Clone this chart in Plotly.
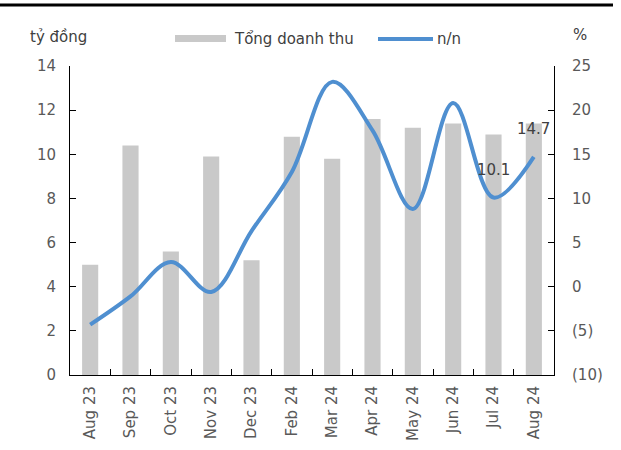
import plotly.graph_objects as go

months = ["Aug 23", "Sep 23", "Oct 23", "Nov 23", "Dec 23", "Feb 24",
          "Mar 24", "Apr 24", "May 24", "Jun 24", "Jul 24", "Aug 24"]
revenue = [5.0, 10.4, 5.6, 9.9, 5.2, 10.8, 9.8, 11.6, 11.2, 11.4, 10.9, 11.4]
yoy = [-4.3, -1.1, 2.8, -0.6, 6.3, 13.0, 23.2, 17.7, 8.8, 20.8, 10.1, 14.7]
labelled = ["Jul 24", "Aug 24"]

FONT = "DejaVu Sans, Verdana, sans-serif"
TICK = "#595959"
BAR = "#C9C9C9"
LINE = "#4F8FD0"

W, H = 621, 450
L, R, T, B = 70, 67, 66, 75
pw, ph = W - L - R, H - T - B


def px(x):
    return (x - L) / pw


def py(y):
    return (H - B - y) / ph


fig = go.Figure()
fig.add_trace(go.Bar(x=months, y=revenue, name="Tổng doanh thu",
                     marker_color=BAR, marker_line_width=0, yaxis="y"))
fig.add_trace(go.Scatter(x=months, y=yoy, name="n/n", mode="lines",
                         line=dict(color=LINE, width=4, shape="spline", smoothing=1.0),
                         yaxis="y2"))

ann = []
for m, v in zip(months, yoy):
    if m in labelled:
        ann.append(dict(x=m, y=v, xref="x", yref="y2", text=f"{v:.1f}",
                        showarrow=False, yshift=28,
                        font=dict(family=FONT, size=15, color="#404040")))

# axis titles
ann.append(dict(x=px(28), y=py(37), xref="paper", yref="paper", text="tỷ đồng",
                showarrow=False, xanchor="left", yanchor="middle",
                font=dict(family=FONT, size=15, color="#404040")))
ann.append(dict(x=px(580), y=py(35), xref="paper", yref="paper", text="%",
                showarrow=False, xanchor="center", yanchor="middle",
                font=dict(family=FONT, size=15, color="#404040")))

# legend drawn by hand
ann.append(dict(x=px(232), y=py(39), xref="paper", yref="paper", text="Tổng doanh thu",
                showarrow=False, xanchor="left", yanchor="middle",
                font=dict(family=FONT, size=15, color="#404040")))
ann.append(dict(x=px(435), y=py(39), xref="paper", yref="paper", text="n/n",
                showarrow=False, xanchor="left", yanchor="middle",
                font=dict(family=FONT, size=15, color="#404040")))

shapes = [
    dict(type="rect", xref="paper", yref="paper", x0=px(175), x1=px(226),
         y0=py(42), y1=py(35), fillcolor=BAR, line_width=0),
    dict(type="line", xref="paper", yref="paper", x0=px(378), x1=px(433),
         y0=py(39), y1=py(39), line=dict(color=LINE, width=4)),
    dict(type="line", xref="paper", yref="paper", x0=px(0), x1=px(613),
         y0=py(5), y1=py(5), line=dict(color="#000000", width=3)),
]

fig.update_layout(
    width=W, height=H,
    margin=dict(l=L, r=R, t=T, b=B, pad=0, autoexpand=False),
    paper_bgcolor="white", plot_bgcolor="white",
    showlegend=False,
    bargap=0.6,
    font=dict(family=FONT, size=15, color=TICK),
    xaxis=dict(type="category", showline=True, linecolor="#000000", linewidth=1,
               ticks="inside", ticklen=6, tickcolor="#000000", tickson="boundaries",
               tickangle=-90, showgrid=False, ticklabelstandoff=4, automargin=False,
               tickfont=dict(family=FONT, size=15, color=TICK)),
    yaxis=dict(range=[0, 14], dtick=2, showline=True, linecolor="#000000", linewidth=1,
               ticks="inside", ticklen=6, tickcolor="#000000", showgrid=False,
               zeroline=False, ticklabelstandoff=10, automargin=False,
               tickfont=dict(family=FONT, size=15, color=TICK)),
    yaxis2=dict(range=[-10, 25], dtick=5, overlaying="y", side="right",
                showline=True, linecolor="#000000", linewidth=1,
                ticks="inside", ticklen=6, tickcolor="#000000", showgrid=False,
                zeroline=False, tickvals=[-10, -5, 0, 5, 10, 15, 20, 25],
                ticktext=["(10)", "(5)", "0", "5", "10", "15", "20", "25"],
                ticklabelstandoff=14, automargin=False,
                tickfont=dict(family=FONT, size=15, color=TICK)),
    annotations=ann,
    shapes=shapes,
)

fig.write_html("out.html")
